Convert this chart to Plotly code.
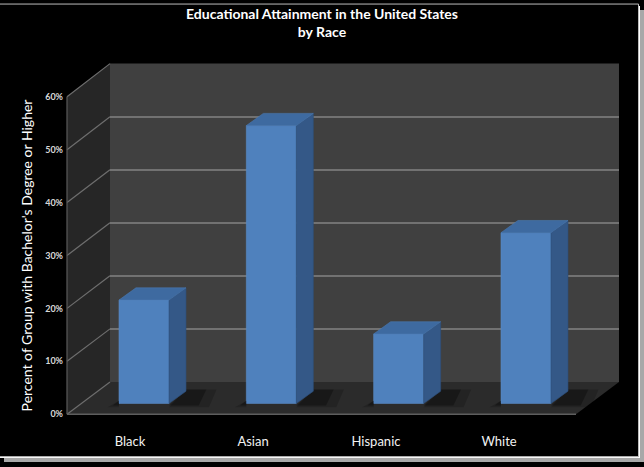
import plotly.graph_objects as go

# ---------------- data ----------------
categories = ["Black", "Asian", "Hispanic", "White"]
values = [19.5, 52.4, 13.1, 32.2]          # percent with bachelor's degree or higher
tick_values = [0, 10, 20, 30, 40, 50, 60]
tick_labels = ["0%", "10%", "20%", "30%", "40%", "50%", "60%"]

title_text = "Educational Attainment in the United States<br>by Race"
y_title = "Percent of Group with Bachelor's Degree or Higher"

# ---------------- geometry (pixels) ----------------
W, H = 644, 467
FONT = "Lato"

def px(x):
    return x / W

def py(y):
    return 1 - y / H

# front face of the plot box
FRONT_X = 67
FRONT_TOP, FRONT_BOT = 93, 418
# back wall
BACK_L, BACK_R = 110, 619
BACK_TOP, BACK_BOT = 59, 385
FLOOR_FRONT_R = 576

# bar placement (front faces)
BAR_X0, BAR_STEP = 144, 127.33     # pixel centre of first bar, spacing
BAR_ZERO = 407                     # pixel of bar base
K = 5.43                           # pixels per percent at bar depth
BAR_W_PX = 50
DEPTH_X_PX, DEPTH_Y_PX = 17, 12.5

# label placement
LAB_X0, LAB_STEP = 130, 123
LAB_AXIS_Y = 436

positions = list(range(len(categories)))
w = BAR_W_PX / BAR_STEP
dx = DEPTH_X_PX / BAR_STEP
dy = DEPTH_Y_PX / K

FRONT_COL = "#4f81bd"
SIDE_COL = "#345887"
TOP_COL = "#3e6aa0"

fig = go.Figure()

# invisible trace to materialise the back-wall subplot
fig.add_trace(go.Scatter(x=[0.5], y=[0], xaxis="x", yaxis="y", mode="markers",
                         marker=dict(opacity=0), hoverinfo="skip", showlegend=False))

# soft floor shadows (two layers to imitate a blur)
for i, v in zip(positions, values):
    for grow, alpha in ((0.08, 0.18), (0.0, 0.3)):
        xs = [i + w / 2, i + w / 2 + dx + 0.1 + grow, i + w / 2 + dx + 0.16 + grow,
              i + w / 2 + dx, i + w / 2]
        ys = [-0.4 - grow * 4, -0.4 - grow * 4, dy + 0.3, dy + 0.3, -0.4 - grow * 4]
        fig.add_trace(go.Scatter(x=xs, y=ys, xaxis="x2", yaxis="y2", mode="lines",
                                 fill="toself", fillcolor=f"rgba(0,0,0,{alpha})",
                                 line=dict(width=0), hoverinfo="skip", showlegend=False))
        xs = [i - w / 2 - 0.05 - grow / 2, i - w / 2, i - w / 2, i - w / 2 - 0.05 - grow / 2]
        ys = [-0.4 - grow * 4, -0.4 - grow * 4, 0.5, -0.4 - grow * 4]
        fig.add_trace(go.Scatter(x=xs, y=ys, xaxis="x2", yaxis="y2", mode="lines",
                                 fill="toself", fillcolor=f"rgba(0,0,0,{alpha})",
                                 line=dict(width=0), hoverinfo="skip", showlegend=False))

# side faces
for i, v in zip(positions, values):
    xs = [i + w / 2, i + w / 2 + dx, i + w / 2 + dx, i + w / 2, i + w / 2]
    ys = [0, dy, v + dy, v, 0]
    fig.add_trace(go.Scatter(x=xs, y=ys, xaxis="x2", yaxis="y2", mode="lines",
                             fill="toself", fillcolor=SIDE_COL,
                             line=dict(width=0.6, color="#2e4f7a"), hoverinfo="skip", showlegend=False))

# top faces
for i, v in zip(positions, values):
    xs = [i - w / 2, i + w / 2, i + w / 2 + dx, i - w / 2 + dx, i - w / 2]
    ys = [v, v, v + dy, v + dy, v]
    fig.add_trace(go.Scatter(x=xs, y=ys, xaxis="x2", yaxis="y2", mode="lines",
                             fill="toself", fillcolor=TOP_COL,
                             line=dict(width=0.6, color="#4a78b0"), hoverinfo="skip", showlegend=False))

# front faces
fig.add_trace(go.Bar(x=positions, y=values, width=w, xaxis="x2", yaxis="y2",
                     marker=dict(color=FRONT_COL, line=dict(width=0.6, color="#5a8bc6")),
                     hovertext=categories, showlegend=False))

# helper traces for tick-label axes
fig.add_trace(go.Scatter(x=[0], y=[0], xaxis="x2", yaxis="y3", mode="markers",
                         marker=dict(opacity=0), hoverinfo="skip", showlegend=False))
fig.add_trace(go.Scatter(x=positions, y=[0] * len(positions), xaxis="x3", yaxis="y2", mode="markers",
                         marker=dict(opacity=0), hoverinfo="skip", showlegend=False))

# ---------------- walls / floor as shapes ----------------
def path(points):
    return "M " + " L ".join(f"{px(x):.5f},{py(y):.5f}" for x, y in points) + " Z"

shapes = []
# outer chart area with light border + frame shadow
shapes.append(dict(type="rect", xref="paper", yref="paper", x0=px(640), x1=px(644), y0=py(467), y1=py(4),
                   fillcolor="#a8a8a8", line=dict(width=0), layer="below"))
shapes.append(dict(type="rect", xref="paper", yref="paper", x0=px(4), x1=px(644), y0=py(467), y1=py(463),
                   fillcolor="#a8a8a8", line=dict(width=0), layer="below"))
shapes.append(dict(type="rect", xref="paper", yref="paper", x0=px(0), x1=px(640), y0=py(463), y1=py(0),
                   fillcolor="#ffffff", line=dict(width=0), layer="below"))
shapes.append(dict(type="rect", xref="paper", yref="paper", x0=px(-2), x1=px(638.5), y0=py(461.5), y1=py(-2),
                   fillcolor="#000000", line=dict(width=1, color="#bcbcbc"), layer="below"))
# back wall
shapes.append(dict(type="path", xref="paper", yref="paper",
                   path=path([(BACK_L, BACK_TOP), (BACK_R, BACK_TOP), (BACK_R, BACK_BOT), (BACK_L, BACK_BOT)]),
                   fillcolor="#404040", line=dict(width=0), layer="below"))
# left wall
shapes.append(dict(type="path", xref="paper", yref="paper",
                   path=path([(FRONT_X, FRONT_TOP), (BACK_L, BACK_TOP), (BACK_L, BACK_BOT), (FRONT_X, FRONT_BOT)]),
                   fillcolor="#262626", line=dict(width=0), layer="below"))
# floor
shapes.append(dict(type="path", xref="paper", yref="paper",
                   path=path([(FRONT_X, FRONT_BOT), (FLOOR_FRONT_R, FRONT_BOT), (BACK_R, BACK_BOT), (BACK_L, BACK_BOT)]),
                   fillcolor="#2b2b2b", line=dict(width=0), layer="below"))
# left-wall gridlines (diagonals)
kf = (FRONT_BOT - FRONT_TOP) / 60
kb = (BACK_BOT - BACK_TOP) / 60
for v in tick_values:
    shapes.append(dict(type="line", xref="paper", yref="paper",
                       x0=px(FRONT_X), y0=py(FRONT_BOT - kf * v), x1=px(BACK_L), y1=py(BACK_BOT - kb * v),
                       line=dict(color="#6e6e6e", width=1.2), layer="below"))
# front edges
shapes.append(dict(type="line", xref="paper", yref="paper", x0=px(FRONT_X), y0=py(FRONT_TOP),
                   x1=px(FRONT_X), y1=py(FRONT_BOT), line=dict(color="#5a5a5a", width=1.2), layer="below"))
shapes.append(dict(type="line", xref="paper", yref="paper", x0=px(FRONT_X), y0=py(FRONT_BOT),
                   x1=px(FLOOR_FRONT_R), y1=py(FRONT_BOT), line=dict(color="#5e5e5e", width=1.5), layer="below"))

# ---------------- layout ----------------
fig.update_layout(
    width=W, height=H,
    margin=dict(l=0, r=0, t=0, b=0),
    paper_bgcolor="#000000",
    plot_bgcolor="rgba(0,0,0,0)",
    showlegend=False,
    shapes=shapes,
    title=dict(text=title_text, x=0.5, xanchor="center", y=1 - 19 / H, yanchor="top",
               font=dict(family=FONT, size=14, color="#ffffff", weight="bold")),
    font=dict(family=FONT, color="#ffffff"),
    # back wall subplot (gridlines)
    xaxis=dict(domain=[px(BACK_L), px(BACK_R)], range=[0, 1], showgrid=False, zeroline=False,
               showticklabels=False, showline=False, fixedrange=True),
    yaxis=dict(domain=[py(BACK_BOT), py(BACK_TOP)], range=[0, 60], tickvals=tick_values,
               showgrid=True, gridcolor="#727272", gridwidth=1.5, zeroline=False,
               showticklabels=False, showline=False, fixedrange=True, anchor="x"),
    # bar subplot
    xaxis2=dict(domain=[0, 1], range=[(0 - BAR_X0) / BAR_STEP, (W - BAR_X0) / BAR_STEP],
                visible=False, anchor="y2", fixedrange=True),
    yaxis2=dict(domain=[py(FRONT_BOT), py(FRONT_TOP)],
                range=[-(FRONT_BOT - BAR_ZERO) / K, (BAR_ZERO - FRONT_TOP) / K],
                visible=False, anchor="x2", fixedrange=True),
    # front value axis with labels
    yaxis3=dict(overlaying="y2", anchor="free", position=px(FRONT_X), side="left",
                range=[0, 60], tickvals=tick_values, ticktext=tick_labels,
                showgrid=False, zeroline=False, showline=False, ticks="",
                ticklabelstandoff=4,
                tickfont=dict(family=FONT, size=9, color="#d9d9d9", weight="bold"),
                title=dict(text=y_title, standoff=8,
                           font=dict(family=FONT, size=14, color="#ffffff")),
                fixedrange=True),
    # category axis with labels
    xaxis3=dict(overlaying="x2", anchor="free", position=py(LAB_AXIS_Y), side="bottom",
                range=[(0 - LAB_X0) / LAB_STEP, (W - LAB_X0) / LAB_STEP],
                tickvals=positions, ticktext=categories,
                showgrid=False, zeroline=False, showline=False, ticks="",
                tickfont=dict(family=FONT, size=13, color="#f2f2f2"),
                fixedrange=True),
)

fig.write_html("out.html")
